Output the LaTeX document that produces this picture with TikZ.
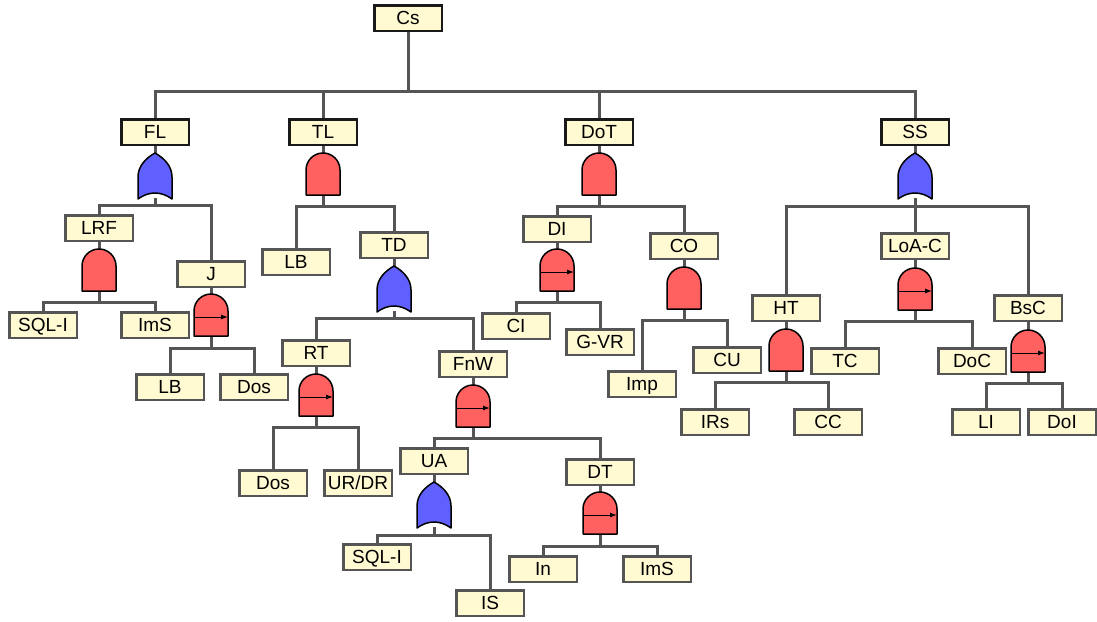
\documentclass[tikz,border=0pt]{standalone}
\usepackage{fontspec}
\setmainfont{Liberation Sans}
\usetikzlibrary{arrows.meta,backgrounds}
\definecolor{boxfill}{RGB}{255,250,210}
\definecolor{linegray}{RGB}{85,85,85}
\definecolor{andred}{RGB}{255,96,96}
\definecolor{orblue}{RGB}{96,96,255}
\tikzset{
  evt/.style={draw=linegray, line width=2.5pt, fill=boxfill,
    minimum width=67.5pt, minimum height=25.5pt, inner sep=0pt, outer sep=0pt,
    text height=13.8pt, text depth=0pt, font=\fontsize{19}{19}\selectfont},
  topevt/.style={evt, draw=black!90},
  conn/.style={draw=linegray, line width=3pt, line cap=rect},
  gatebox/.style={inner sep=0pt, outer sep=0pt, minimum width=34pt, minimum height=#1pt},
  gateline/.style={draw=black, line width=1.5pt, line join=round},
  seqarrow/.style={draw=black, line width=1pt, -{Latex[length=7pt,width=5pt]}},
  % AND gate: origin at the top of the dome
  pics/andg/.style={code={
    \node[gatebox=42] (-g) at (0,21) {};
    \path[gateline, fill=andred] (-17,42) -- (-17,17)
      .. controls (-17,7.6) and (-9.4,0) .. (0,0)
      .. controls (9.4,0) and (17,7.6) .. (17,17) -- (17,42) -- cycle;
  }},
  % priority AND gate: AND gate with a left-to-right arrow
  pics/pandg/.style={code={
    \node[gatebox=42] (-g) at (0,21) {};
    \path[gateline, fill=andred] (-17,42) -- (-17,17)
      .. controls (-17,7.6) and (-9.4,0) .. (0,0)
      .. controls (9.4,0) and (17,7.6) .. (17,17) -- (17,42) -- cycle;
    \draw[seqarrow] (-17,23) -- (17,23);
  }},
  % OR gate: origin at the tip
  pics/org/.style={code={
    \node[gatebox=46] (-g) at (0,23) {};
    \path[gateline, fill=orblue] (-17,46) -- (-17,24)
      .. controls (-17,13) and (-9,5) .. (0,0)
      .. controls (9,5) and (17,13) .. (17,24) -- (17,46)
      .. controls (6,38) and (-6,38) .. cycle;
  }},
}
\begin{document}
\begin{tikzpicture}[x=1pt, y=-1pt]
\useasboundingbox (0,0) rectangle (1097,621);

% top event and first level
\node[topevt] (Cs) at (408,18) {Cs};
\node[topevt] (FL) at (155,132) {FL};
\node[topevt] (TL) at (323,132) {TL};
\node[topevt] (DoT) at (599,132) {DoT};
\node[topevt] (SS) at (915,132) {SS};

% FL branch
\pic (gFL) at (155,153) {org};
\node[evt] (LRF) at (99,228) {LRF};
\node[evt] (J) at (211,274) {J};
\pic (gLRF) at (99,249) {andg};
\node[evt] (SQLa) at (43,325) {SQL-I};
\node[evt] (ImSa) at (155,325) {ImS};
\pic (gJ) at (211,294) {pandg};
\node[evt] (LBa) at (170,387) {LB};
\node[evt] (Dosa) at (254,387) {Dos};

% TL branch
\pic (gTL) at (323,153) {andg};
\node[evt] (LBb) at (296,262) {LB};
\node[evt] (TD) at (394,245) {TD};
\pic (gTD) at (394,266) {org};
\node[evt] (RT) at (316,353) {RT};
\node[evt] (FnW) at (473,364) {FnW};
\pic (gRT) at (316,374) {pandg};
\node[evt] (Dosb) at (273,483) {Dos};
\node[evt] (URDR) at (358,483) {UR/DR};
\pic (gFnW) at (473,385) {pandg};
\node[evt] (UA) at (434,461) {UA};
\node[evt] (DT) at (600,472) {DT};
\pic (gUA) at (434,482) {org};
\node[evt] (SQLb) at (377,557) {SQL-I};
\node[evt] (IS) at (490,603) {IS};
\pic (gDT) at (600,492) {pandg};
\node[evt] (In) at (543,569) {In};
\node[evt] (ImSb) at (657,569) {ImS};

% DoT branch
\pic (gDoT) at (599,153) {andg};
\node[evt] (DI) at (557,229) {DI};
\node[evt] (CO) at (684,246) {CO};
\pic (gDI) at (557,249) {pandg};
\node[evt] (CI) at (516,326) {CI};
\node[evt] (GVR) at (600,342) {G-VR};
\pic (gCO) at (684,267) {andg};
\node[evt] (Imp) at (642,384) {Imp};
\node[evt] (CU) at (727,360) {CU};

% SS branch
\pic (gSS) at (915,153) {org};
\node[evt] (HT) at (786,308) {HT};
\node[evt] (LoAC) at (915,246) {LoA-C};
\node[evt] (BsC) at (1028,308) {BsC};
\pic (gHT) at (786,329) {andg};
\node[evt] (IRs) at (715,422) {IRs};
\node[evt] (CC) at (828,422) {CC};
\pic (gLoAC) at (915,268) {pandg};
\node[evt] (TC) at (845,361) {TC};
\node[evt] (DoC) at (972,361) {DoC};
\pic (gBsC) at (1028,330) {pandg};
\node[evt] (LI) at (986,422) {LI};
\node[evt] (DoI) at (1062,422) {DoI};

% bus levels below each gate
\coordinate (bCs) at (408,91);
\coordinate (bFL) at (155,205);
\coordinate (bLRF) at (99,302);
\coordinate (bJ) at (211,348);
\coordinate (bTL) at (323,206);
\coordinate (bTD) at (394,318);
\coordinate (bRT) at (316,427);
\coordinate (bFnW) at (473,438);
\coordinate (bUA) at (434,535);
\coordinate (bDT) at (600,546);
\coordinate (bDoT) at (599,206);
\coordinate (bDI) at (557,302);
\coordinate (bCO) at (684,320);
\coordinate (bSS) at (915,206);
\coordinate (bHT) at (786,382);
\coordinate (bLoAC) at (915,321);
\coordinate (bBsC) at (1028,383);

\begin{pgfonlayer}{background}
  % top event to first level
  \draw[conn] (Cs.south) -- (bCs);
  \foreach \c in {FL,TL,DoT,SS} \draw[conn] (bCs) -| (\c.north);
  % event box to its gate, gate to its bus
  \foreach \e in {FL,LRF,J,TL,TD,RT,FnW,UA,DT,DoT,DI,CO,SS,HT,LoAC,BsC} {
    \draw[conn] (\e.south) -- (g\e-g.north);
    \draw[conn] (g\e-g.south) -- (b\e);
  }
  % bus to children
  \foreach \p/\c in {FL/LRF, FL/J, LRF/SQLa, LRF/ImSa, J/LBa, J/Dosa,
      TL/LBb, TL/TD, TD/RT, TD/FnW, RT/Dosb, RT/URDR, FnW/UA, FnW/DT,
      UA/SQLb, UA/IS, DT/In, DT/ImSb,
      DoT/DI, DoT/CO, DI/CI, DI/GVR, CO/Imp, CO/CU,
      SS/HT, SS/LoAC, SS/BsC, HT/IRs, HT/CC, LoAC/TC, LoAC/DoC, BsC/LI, BsC/DoI}
    \draw[conn] (b\p) -| (\c.north);
\end{pgfonlayer}
\end{tikzpicture}
\end{document}
